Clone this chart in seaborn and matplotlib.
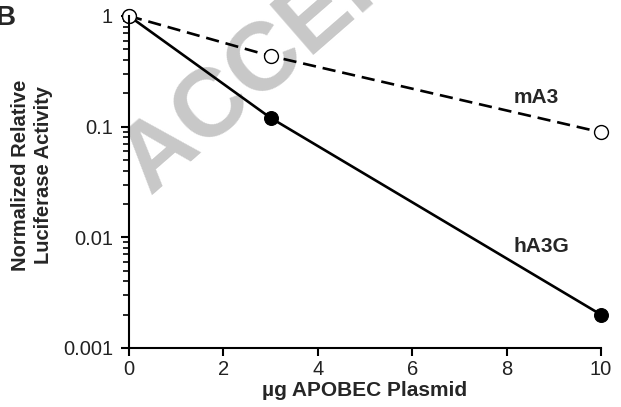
import matplotlib
matplotlib.use("Agg")
import matplotlib.pyplot as plt
import seaborn as sns
import pandas as pd

# Data
dose = [0, 3, 10]
ha3g = [1.0, 0.12, 0.002]
ma3 = [1.0, 0.435, 0.089]
xticks = [0, 2, 4, 6, 8, 10]
yticks = [0.001, 0.01, 0.1, 1]
ytick_labels = ["0.001", "0.01", "0.1", "1"]

sns.set_style("ticks")
plt.rcParams['font.family'] = ['Liberation Sans', 'DejaVu Sans']

df = pd.DataFrame({
    "dose": dose * 2,
    "value": ha3g + ma3,
    "series": ["hA3G"] * len(dose) + ["mA3"] * len(dose),
})

fig = plt.figure(figsize=(6.21, 4.07), dpi=100)
ax = fig.add_axes([0.2077, 0.145, 0.7601, 0.8157])

# watermark
fig.text(150 / 621, 1 - 195 / 407, "ACCEPTED", fontsize=70, fontweight='bold',
         color='#c8c8c8', rotation=41, rotation_mode='anchor',
         ha='left', va='baseline', zorder=0, transform=fig.transFigure)
ax.set_zorder(1)
ax.patch.set_alpha(0)

sns.lineplot(data=df[df.series == "hA3G"], x="dose", y="value", ax=ax,
             color='black', lw=1.9, marker='o', markersize=10,
             markerfacecolor='black', markeredgecolor='black', clip_on=False)
sns.lineplot(data=df[df.series == "mA3"], x="dose", y="value", ax=ax,
             color='black', lw=1.9, marker='o', markersize=10,
             markerfacecolor='white', markeredgecolor='black', markeredgewidth=1.0,
             clip_on=False)
ax.lines[1].set_dashes([5, 2.6])

ax.set_yscale('log')
ax.set_ylim(0.001, 1)
ax.set_xlim(0, 10)
ax.set_xticks(xticks)
ax.set_xticklabels([str(t) for t in xticks])
ax.set_yticks(yticks)
ax.set_yticklabels(ytick_labels)
sns.despine(ax=ax)
for s in ['left', 'bottom']:
    ax.spines[s].set_linewidth(1.5)
    ax.spines[s].set_color('black')
ax.tick_params(axis='both', which='major', labelsize=14.5, width=1.5, length=6,
               color='black', labelcolor='#222222')
ax.tick_params(axis='x', which='major', pad=3)
ax.tick_params(axis='y', which='major', pad=5.5)
ax.tick_params(axis='y', which='minor', width=1.2, length=4, color='black')

ax.set_xlabel("µg APOBEC Plasmid", fontsize=15, fontweight='bold', labelpad=1)
ax.set_ylabel("Normalized Relative\nLuciferase Activity", fontsize=14.5,
              fontweight='bold', linespacing=1.25, va='center')
ax.yaxis.set_label_coords((32 - 129) / 472, (348 - 175) / 332)

ax.text(8.14, 0.185, "mA3", fontsize=15, fontweight='bold', ha='left', va='center')
ax.text(8.14, 0.0082, "hA3G", fontsize=15, fontweight='bold', ha='left', va='center')

fig.text(-0.008, 0.955, "B", fontsize=20, fontweight='bold', ha='left', va='center')

fig.savefig("out.png", dpi=100)
